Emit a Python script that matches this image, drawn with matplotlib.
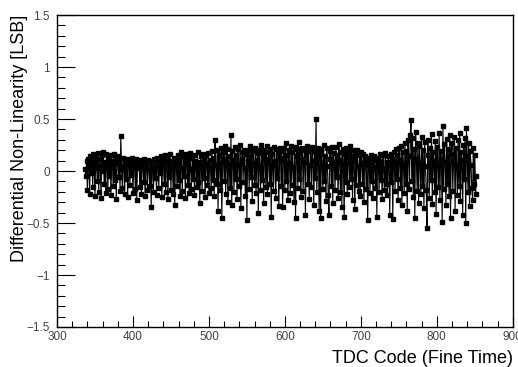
import numpy as np
import matplotlib
matplotlib.use("Agg")
import matplotlib.pyplot as plt
from matplotlib.ticker import MultipleLocator

plt.rcParams['font.family'] = ['Liberation Sans', 'DejaVu Sans']

first_code = 337
dnl = [
    0.02, -0.05, 0.10, -0.18, 0.12, 0.05, -0.22, 0.14, -0.02, 0.11,
    -0.15, 0.16, 0.03, -0.24, 0.13, 0.08, -0.10, 0.17, -0.20, 0.12,
    0.06, -0.26, 0.15, 0.00, 0.18, -0.12, 0.09, -0.21, 0.16, 0.04,
    -0.17, 0.13, -0.05, 0.15, -0.23, 0.10, 0.07, -0.14, 0.16, -0.09,
    0.12, -0.27, 0.08, 0.14, -0.06, 0.11, -0.19, 0.34, 0.02, -0.16,
    0.13, 0.05, -0.22, 0.10, -0.08, 0.12, -0.25, 0.07, 0.11, -0.13,
    0.09, -0.04, 0.13, -0.21, 0.06, 0.10, -0.17, 0.12, -0.28, 0.08,
    0.03, 0.11, -0.15, 0.07, -0.22, 0.10, 0.05, -0.11, 0.12, -0.24,
    0.06, 0.09, -0.18, 0.11, 0.02, -0.14, 0.08, -0.35, 0.10, 0.04,
    -0.20, 0.12, -0.07, 0.09, -0.23, 0.13, 0.06, -0.16, 0.10, -0.02,
    0.14, -0.25, 0.08, 0.11, -0.12, 0.15, -0.20, 0.07, 0.12, -0.27,
    0.09, -0.06, 0.16, -0.18, 0.10, 0.04, -0.22, 0.13, -0.33, 0.11,
    0.07, -0.14, 0.15, -0.09, 0.12, -0.24, 0.18, 0.03, -0.19, 0.14,
    -0.05, 0.10, -0.26, 0.16, 0.08, -0.13, 0.12, -0.21, 0.17, 0.02,
    -0.17, 0.13, -0.08, 0.15, -0.23, 0.10, 0.06, -0.15, 0.18, -0.11,
    0.09, -0.31, 0.14, 0.05, -0.19, 0.16, -0.07, 0.12, -0.25, 0.15,
    0.08, -0.13, 0.17, -0.21, 0.11, 0.04, -0.16, 0.19, -0.09, 0.13,
    -0.24, 0.30, 0.06, -0.12, 0.20, -0.38, 0.15, 0.08, -0.18, 0.22,
    -0.45, 0.12, 0.18, -0.10, 0.24, -0.22, 0.09, 0.21, -0.30, 0.14,
    0.05, -0.16, 0.35, -0.33, 0.19, 0.11, -0.20, 0.23, -0.08, 0.15,
    -0.27, 0.21, 0.07, -0.14, 0.25, -0.36, 0.12, 0.18, -0.11, 0.20,
    0.03, -0.24, 0.16, -0.47, 0.20, 0.10, -0.17, 0.24, -0.06, 0.14,
    -0.29, 0.19, 0.08, -0.13, 0.22, -0.21, 0.11, 0.17, -0.40, 0.20,
    0.05, -0.18, 0.25, -0.09, 0.15, -0.31, 0.20, 0.12, -0.15, 0.24,
    -0.22, 0.09, 0.18, -0.12, 0.21, -0.44, 0.16, 0.06, -0.19, 0.23,
    0.10, -0.26, 0.21, -0.07, 0.17, -0.34, 0.13, 0.22, -0.14, 0.19,
    -0.35, 0.11, 0.22, -0.18, 0.27, -0.10, 0.15, -0.28, 0.20, 0.08,
    -0.21, 0.24, -0.13, 0.18, 0.04, -0.30, 0.23, -0.45, 0.14, 0.21,
    -0.16, 0.28, -0.08, 0.17, -0.25, 0.12, 0.22, -0.19, 0.09, 0.20,
    -0.42, 0.15, 0.24, -0.12, 0.19, -0.27, 0.06, 0.22, -0.15, 0.23,
    0.10, -0.33, 0.18, -0.07, 0.50, -0.20, 0.13, 0.22, -0.38, 0.16,
    -0.45, 0.21, 0.08, -0.17, 0.25, -0.10, 0.14, -0.29, 0.22, 0.05,
    -0.23, -0.42, 0.19, 0.12, -0.14, 0.23, -0.31, 0.17, 0.09, -0.18,
    0.23, -0.06, 0.15, -0.26, 0.26, 0.11, -0.20, 0.18, -0.35, 0.21,
    0.07, -0.44, 0.16, -0.11, 0.22, -0.22, 0.13, 0.19, -0.15, 0.24,
    -0.08, 0.14, -0.28, 0.20, 0.10, -0.37, 0.17, -0.13, 0.20, 0.05,
    -0.19, 0.15, -0.24, 0.18, 0.08, -0.12, 0.16, -0.30, 0.11, 0.14,
    -0.17, 0.09, -0.47, 0.13, 0.06, -0.21, 0.15, -0.10, 0.12, -0.26,
    0.14, 0.04, -0.16, 0.11, -0.44, 0.13, 0.07, -0.20, 0.16, -0.09,
    0.10, -0.27, 0.15, 0.03, -0.18, 0.17, -0.12, 0.09, -0.23, 0.14,
    0.06, -0.42, 0.16, -0.11, 0.12, -0.46, 0.18, 0.08, -0.19, 0.21,
    -0.08, 0.15, -0.28, 0.22, 0.11, -0.16, 0.24, -0.33, 0.18, 0.07,
    -0.21, 0.27, -0.12, 0.19, -0.38, 0.30, 0.14, -0.17, 0.35, 0.49,
    -0.10, 0.32, -0.25, 0.21, -0.45, 0.38, 0.12, -0.19, 0.27, -0.31,
    0.24, 0.08, -0.22, 0.33, -0.14, 0.20, -0.36, 0.28, 0.05, -0.18,
    -0.55, 0.30, 0.15, -0.26, 0.22, -0.09, 0.36, -0.32, 0.18, 0.10,
    -0.20, 0.29, -0.41, 0.23, 0.07, -0.15, 0.37, -0.28, 0.19, 0.12,
    -0.49, 0.43, -0.17, 0.26, 0.09, -0.33, 0.31, -0.12, 0.21, -0.24,
    0.35, -0.45, 0.16, 0.27, -0.19, 0.10, 0.33, -0.38, 0.22, 0.05,
    -0.23, 0.30, -0.14, 0.37, -0.29, 0.18, 0.11, -0.42, 0.25, -0.08,
    0.32, -0.50, 0.41, 0.14, -0.20, 0.27, -0.34, 0.19, 0.06, -0.16,
    -0.28, 0.22, -0.12, 0.15, -0.22, -0.05,
]
codes = np.arange(first_code, first_code + len(dnl))

x_ticks = [300, 400, 500, 600, 700, 800, 900]
y_ticks = [-1.5, -1, -0.5, 0, 0.5, 1, 1.5]
y_tick_labels = ["\u22121.5", "\u22121", "\u22120.5", "0", "0.5", "1", "1.5"]

fig = plt.figure(figsize=(5.18, 3.67), dpi=100)
ax = fig.add_axes([0.110, 0.109, 0.880, 0.850])

ax.plot(codes, dnl, color='black', lw=0.8, marker='s', markersize=2.6,
        markerfacecolor='black', markeredgecolor='black')

ax.set_xlim(300, 900)
ax.set_ylim(-1.5, 1.5)
ax.set_xticks(x_ticks)
ax.set_yticks(y_ticks)
ax.set_yticklabels(y_tick_labels)
ax.xaxis.set_minor_locator(MultipleLocator(20))
ax.yaxis.set_minor_locator(MultipleLocator(0.1))

ax.tick_params(axis='both', which='both', direction='in', top=False, right=False,
               labelsize=8.5, labelcolor='#444444', width=0.8)
ax.tick_params(axis='x', which='major', length=8, pad=3)
ax.tick_params(axis='x', which='minor', length=4)
ax.tick_params(axis='y', which='major', length=13, pad=5)
ax.tick_params(axis='y', which='minor', length=6)

for s in ax.spines.values():
    s.set_linewidth(1.0)

ax.set_xlabel("TDC Code (Fine Time)", fontsize=13, loc='right', labelpad=5)
ax.set_ylabel("Differential Non-Linearity [LSB]", fontsize=13, loc='top')
ax.yaxis.set_label_coords(-0.064, 1.0)

fig.savefig("out.png", dpi=100)
